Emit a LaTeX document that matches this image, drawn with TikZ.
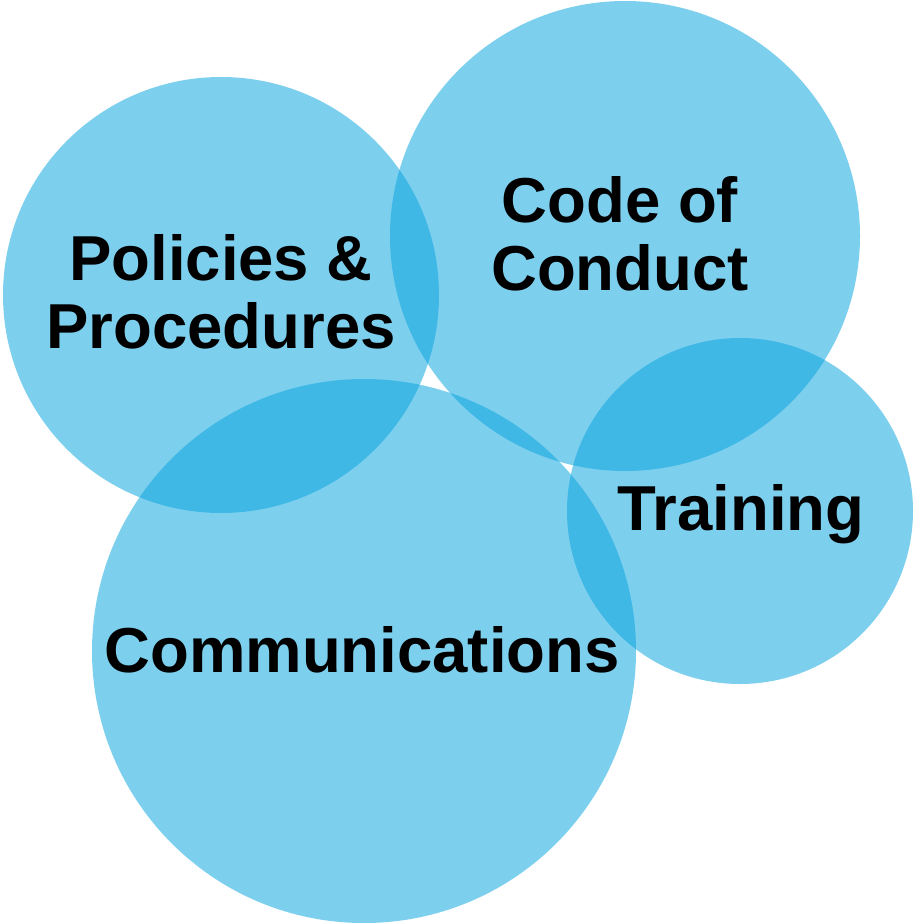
\documentclass[tikz,border=0pt]{standalone}
\usepackage{fontspec}
\setmainfont{Liberation Sans}
\definecolor{bubble}{RGB}{7,164,224}
\begin{document}
\begin{tikzpicture}[x=1pt,y=-1pt,
  bubblefill/.style={fill=bubble,fill opacity=0.52,draw=none},
  label/.style={font=\fontsize{63.5}{68}\selectfont\bfseries,text=black,align=center,inner sep=0pt}]
  \fill[white] (0,0) rectangle (913,923);
  \useasboundingbox (0,0) rectangle (913,923);
  % overlapping circles
  \fill[bubblefill] (221,295) circle[radius=218];
  \fill[bubblefill] (625,236) circle[radius=235];
  \fill[bubblefill] (740,511) circle[radius=173];
  \fill[bubblefill] (364,651) circle[radius=272];
  % labels (base anchor sits on the last line's baseline)
  \node[label,anchor=base] (pol) at (221,348) {Policies \&\\Procedures};
  \node[label,anchor=base] (coc) at (620,290) {Code of\\Conduct};
  \node[label,anchor=base] (trn) at (741,530) {Training};
  \node[label,anchor=base] (com) at (362,672) {Communications};
\end{tikzpicture}
\end{document}
